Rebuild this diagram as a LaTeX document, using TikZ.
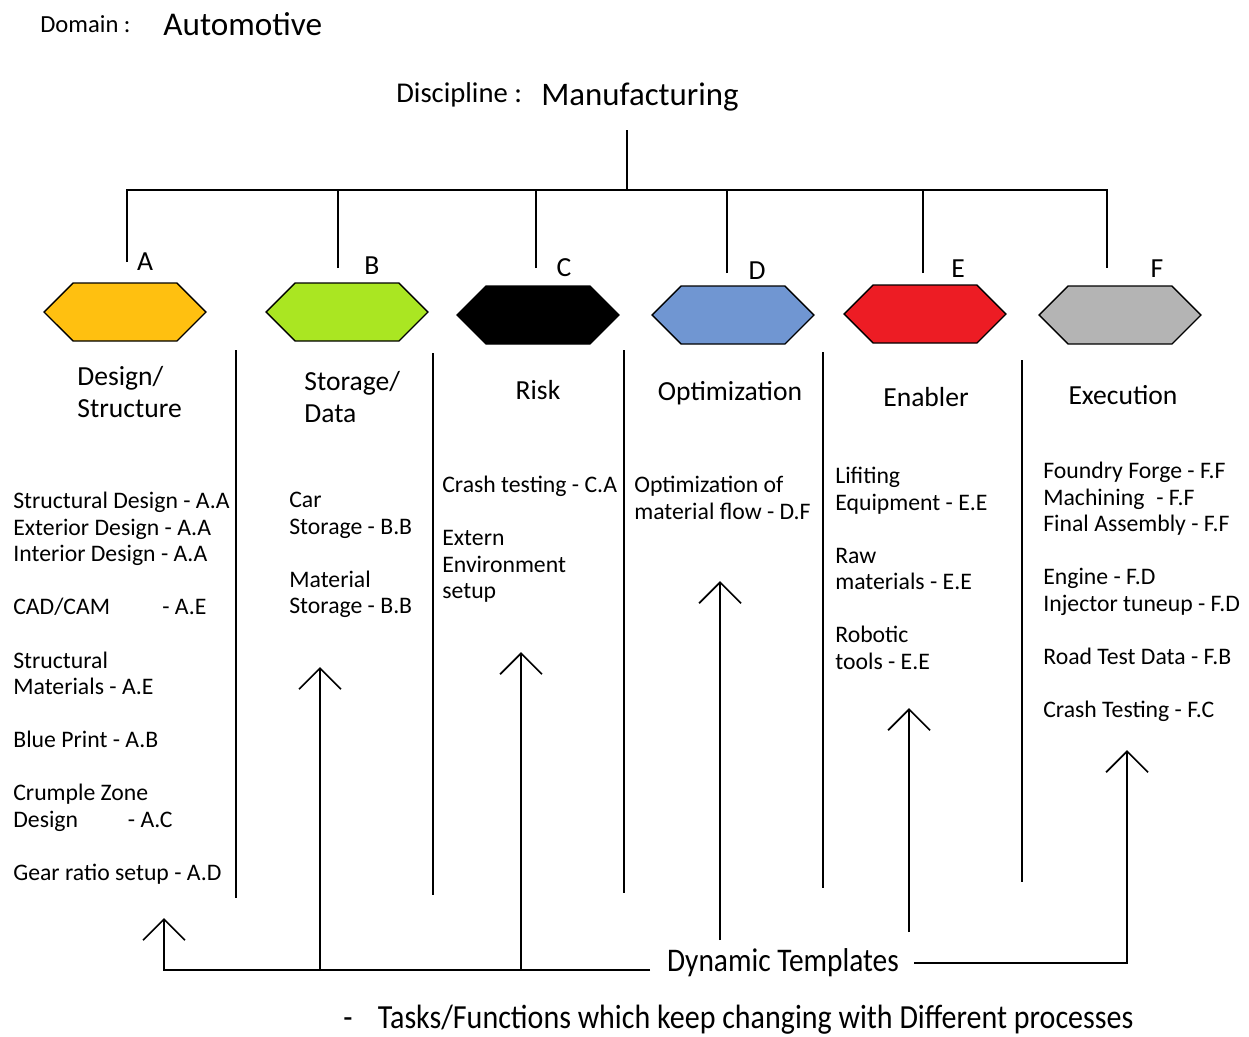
\documentclass[tikz,border=0pt]{standalone}
\usepackage{fontspec}
\setmainfont{Carlito}
\newfontfamily\narrowfont[FakeStretch=0.89]{Carlito}
\usetikzlibrary{arrows.meta,shapes.symbols,positioning}

\begin{document}
\begin{tikzpicture}[x=0.02cm, y=-0.02cm,
    hexa/.style={signal, signal to=west and east, signal pointer angle=90, draw, line width=0.8pt, minimum width=3.24cm, minimum height=1.16cm, inner sep=0pt},
    head/.style={font=\fontsize{15.7}{18.2}\selectfont, align=left, inner sep=0pt},
    items/.style={font=\fontsize{13.5}{15.1}\selectfont, align=left, anchor=north west, inner sep=0pt},
    letter/.style={font=\fontsize{15.7}{18}\selectfont, inner sep=0pt},
    line/.style={line width=1pt},
    up/.style={line width=1pt, -{Straight Barb[length=0.42cm, width=0.84cm, line width=1pt]}}
]
\useasboundingbox (0,0) rectangle (1249,1036);

% title lines
\node[font=\fontsize{14}{16}\selectfont, anchor=west, inner sep=0pt] (dom) at (40,24) {Domain :};
\node[font=\fontsize{18.9}{22}\selectfont, anchor=west, inner sep=0pt] (auto) at (163,24) {Automotive};
\node[font=\fontsize{16.3}{18}\selectfont, anchor=west, inner sep=0pt] (disc) at (396,95) {Discipline :};
\node[font=\fontsize{18.7}{22}\selectfont, anchor=west, inner sep=0pt] (manu) at (541,97) {Manufacturing};

% tree
\coordinate (root) at (627,130);
\coordinate (hub) at (627,190);
\coordinate (da) at (127,262);
\coordinate (db) at (338,268);
\coordinate (dc) at (536,268);
\coordinate (dd) at (727,273);
\coordinate (de) at (923,273);
\coordinate (df) at (1107,268);
\draw[line] (root) -- (hub);
\draw[line] (da) |- (hub) -| (df);
\draw[line] (db) -- (db |- hub);
\draw[line] (dc) -- (dc |- hub);
\draw[line] (dd) -- (dd |- hub);
\draw[line] (de) -- (de |- hub);

\node[letter] (la) at (145,262) {A};
\node[letter] (lb) at (372,266) {B};
\node[letter] (lc) at (564,268) {C};
\node[letter] (ld) at (757,271) {D};
\node[letter] (le) at (958,269) {E};
\node[letter] (lf) at (1157,269) {F};

% hexagons
\node[hexa, fill={rgb,255:red,255;green,192;blue,16}] (ha) at (125,312) {};
\node[hexa, fill={rgb,255:red,170;green,230;blue,34}] (hb) at (347,312) {};
\node[hexa, fill=black] (hc) at (538,315) {};
\node[hexa, fill={rgb,255:red,112;green,150;blue,210}] (hd) at (733,315) {};
\node[hexa, fill={rgb,255:red,237;green,28;blue,36}] (he) at (925,314) {};
\node[hexa, fill={rgb,255:red,180;green,180;blue,180}] (hf) at (1120,315) {};

% headings
\node[head, anchor=west] (ta) at (77,392) {Design/\\Structure};
\node[head, anchor=west] (tb) at (304,397) {Storage/\\Data};
\node[head] (tc) at (538,390) {Risk};
\node[head] (td) at (730,393) {Optimization};
\node[head] (te) at (926,397) {Enabler};
\node[head] (tf) at (1123,395) {Execution};

% separators
\draw[line] (236,350) -- (236,898);
\draw[line] (433,353) -- (433,895);
\draw[line] (624,350) -- (624,893);
\draw[line] (823,352) -- (823,888);
\draw[line] (1022,360) -- (1022,882);

% task lists
\node[items] (ia) at (13,492) {Structural Design - A.A\\Exterior Design - A.A\\Interior Design - A.A\\[15.1pt]CAD/CAM\hspace{2.2em}- A.E\\[15.1pt]Structural\\Materials - A.E\\[15.1pt]Blue Print - A.B\\[15.1pt]Crumple Zone\\Design\hspace{2.1em}- A.C\\[15.1pt]Gear ratio setup - A.D};
\node[items] (ib) at (289,492) {Car\\Storage - B.B\\[15.1pt]Material\\Storage - B.B};
\node[items] (ic) at (442,476) {Crash testing - C.A\\[15.1pt]Extern\\Environment\\setup};
\node[items] (id) at (634,476) {Optimization of\\material flow - D.F};
\node[items] (ie) at (835,467) {Lifiting\\Equipment - E.E\\[15.1pt]Raw\\materials - E.E\\[15.1pt]Robotic\\tools - E.E};
\node[items] (if) at (1043,462) {Foundry Forge - F.F\\Machining\hspace{0.5em}- F.F\\Final Assembly - F.F\\[15.1pt]Engine - F.D\\Injector tuneup - F.D\\[15.1pt]Road Test Data - F.B\\[15.1pt]Crash Testing - F.C};

% dynamic templates
\node[font=\narrowfont\fontsize{18.8}{22}\selectfont, inner sep=0pt] (dyn) at (783,963) {Dynamic Templates};
\node[font=\narrowfont\fontsize{19.2}{22}\selectfont, anchor=west, inner sep=0pt] (note) at (343,1020) {-\hspace{0.75em}Tasks/Functions which keep changing with Different processes};
\coordinate (jl) at (650,970);
\draw[up] (jl) -- (164,970) -- (164,918);
\draw[up] (320,970) -- (320,667);
\draw[up] (521,970) -- (521,652);
\draw[up] (720,940) -- (720,581);
\draw[up] (909,932) -- (909,708);
\draw[up] ([xshift=0.3cm]dyn.east) -- (1127,963) -- (1127,750);
\end{tikzpicture}
\end{document}
